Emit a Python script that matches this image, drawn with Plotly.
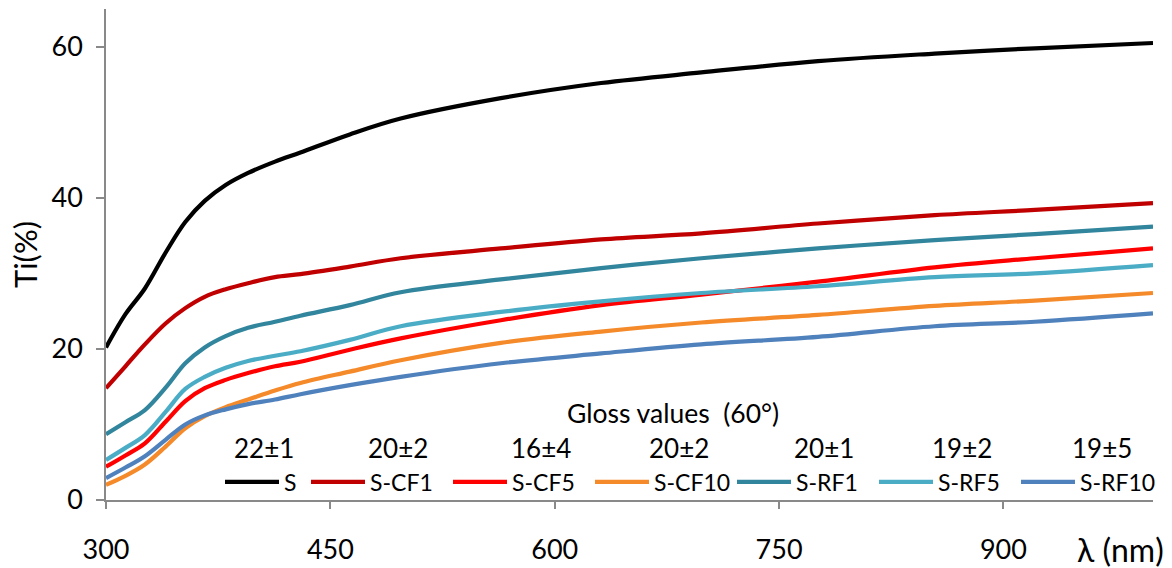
import plotly.graph_objects as go

# Wavelength (nm) sample points
wavelength = [300, 313, 326, 340, 353, 366, 380, 395, 413, 430, 463, 497, 564, 631, 698, 776, 854, 921, 1000]

ti_S     = [20.2, 24.6, 28.0, 32.8, 36.8, 39.6, 41.7, 43.3, 44.8, 46.0, 48.4, 50.5, 53.2, 55.2, 56.6, 58.1, 59.1, 59.8, 60.5]
ti_SCF1  = [14.8, 17.7, 20.6, 23.4, 25.4, 26.9, 27.9, 28.7, 29.5, 29.9, 30.9, 32.0, 33.3, 34.5, 35.3, 36.6, 37.7, 38.4, 39.3]
ti_SCF5  = [4.4, 5.9, 7.5, 10.4, 13.1, 14.8, 15.9, 16.8, 17.7, 18.3, 19.9, 21.4, 23.8, 25.8, 27.2, 28.9, 30.8, 32.0, 33.3]
ti_SCF10 = [2.0, 3.2, 4.7, 7.1, 9.5, 11.1, 12.3, 13.3, 14.5, 15.5, 17.0, 18.5, 20.8, 22.3, 23.5, 24.5, 25.7, 26.4, 27.4]
ti_SRF1  = [8.7, 10.3, 11.9, 14.9, 18.1, 20.2, 21.7, 22.8, 23.6, 24.4, 25.8, 27.5, 29.2, 30.7, 32.0, 33.3, 34.4, 35.2, 36.2]
ti_SRF5  = [5.3, 6.9, 8.6, 11.7, 14.7, 16.3, 17.5, 18.4, 19.1, 19.7, 21.2, 23.0, 24.9, 26.3, 27.4, 28.3, 29.5, 30.0, 31.1]
ti_SRF10 = [2.9, 4.3, 5.8, 8.0, 10.0, 11.2, 12.0, 12.7, 13.3, 14.0, 15.2, 16.3, 18.1, 19.4, 20.6, 21.6, 23.0, 23.6, 24.7]

series_names = ["S", "S-CF1", "S-CF5", "S-CF10", "S-RF1", "S-RF5", "S-RF10"]
series_values = [ti_S, ti_SCF1, ti_SCF5, ti_SCF10, ti_SRF1, ti_SRF5, ti_SRF10]
series_colors = ["#000000", "#C00000", "#FF0000", "#F58A2A", "#31859C", "#4BACC6", "#4F81BD"]
gloss_values = ["22±1", "20±2", "16±4", "20±2", "20±1", "19±2", "19±5"]

x_ticks = [300, 450, 600, 750, 900]
y_ticks = [0, 20, 40, 60]

FONT = "Lato"
fig = go.Figure()
for i, (name, vals, col) in enumerate(zip(series_names, series_values, series_colors)):
    fig.add_trace(go.Scatter(
        x=wavelength, y=vals, name=name, mode="lines",
        line=dict(color=col, width=4.2, shape="spline", smoothing=1.0),
        legend="legend" if i == 0 else "legend2",
    ))

W, H = 1172, 568
L, R, T, B = 106, 19, 9, 68
pw = W - L - R
ph = H - T - B

def px_x(px):
    return (px - L) / pw

def px_y(py):
    return (H - B - py) / ph

legend_common = dict(
    orientation="h", font=dict(family=FONT, size=23, color="#000000"),
    itemwidth=54, bgcolor="rgba(0,0,0,0)", yanchor="middle",
    traceorder="normal", itemclick=False,
)

fig.update_layout(
    width=W, height=H,
    margin=dict(l=L, r=R, t=T, b=B),
    plot_bgcolor="white", paper_bgcolor="white",
    font=dict(family=FONT, color="#000000"),
    showlegend=True,
    legend=dict(x=px_x(220), y=px_y(482), xanchor="left", **legend_common),
    legend2=dict(x=px_x(306), y=px_y(482), xanchor="left",
                 entrywidth=73, entrywidthmode="pixels", **legend_common),
    xaxis=dict(
        range=[300, 1000], tickvals=x_ticks, showgrid=False, zeroline=False,
        showline=True, linecolor="#898989", linewidth=1.5, automargin=False,
        ticks="outside", ticklen=7, tickcolor="#898989", tickwidth=1.5,
        tickfont=dict(family=FONT, size=27, color="#000000"),
        ticklabelstandoff=18,
    ),
    yaxis=dict(
        range=[0, 65], tickvals=y_ticks, showgrid=False, zeroline=False,
        showline=True, linecolor="#898989", linewidth=1.5, automargin=False,
        ticks="outside", ticklen=8, tickcolor="#898989", tickwidth=1.5,
        tickfont=dict(family=FONT, size=27, color="#000000"),
        ticklabelstandoff=8,
        title=dict(text="Ti(%)", font=dict(family=FONT, size=31, color="#000000"), standoff=5),
    ),
)

annotations = [
    dict(text="λ (nm)", x=px_x(1166), y=px_y(549), xref="paper", yref="paper",
         xanchor="right", yanchor="middle", showarrow=False,
         font=dict(family=FONT, size=32, color="#000000")),
    dict(text="Gloss values  (60°)", x=px_x(673), y=px_y(413), xref="paper", yref="paper",
         xanchor="center", yanchor="middle", showarrow=False,
         font=dict(family=FONT, size=26.5, color="#000000")),
]
gloss_centers = [264, 398, 541, 679, 824, 962, 1102]
for g, cx in zip(gloss_values, gloss_centers):
    annotations.append(dict(text=g, x=px_x(cx), y=px_y(448), xref="paper", yref="paper",
                            xanchor="center", yanchor="middle", showarrow=False,
                            font=dict(family=FONT, size=26, color="#000000")))
fig.update_layout(annotations=annotations)

fig.write_html("out.html", config={"displayModeBar": False},
               post_script="document.body.style.margin='0';")
